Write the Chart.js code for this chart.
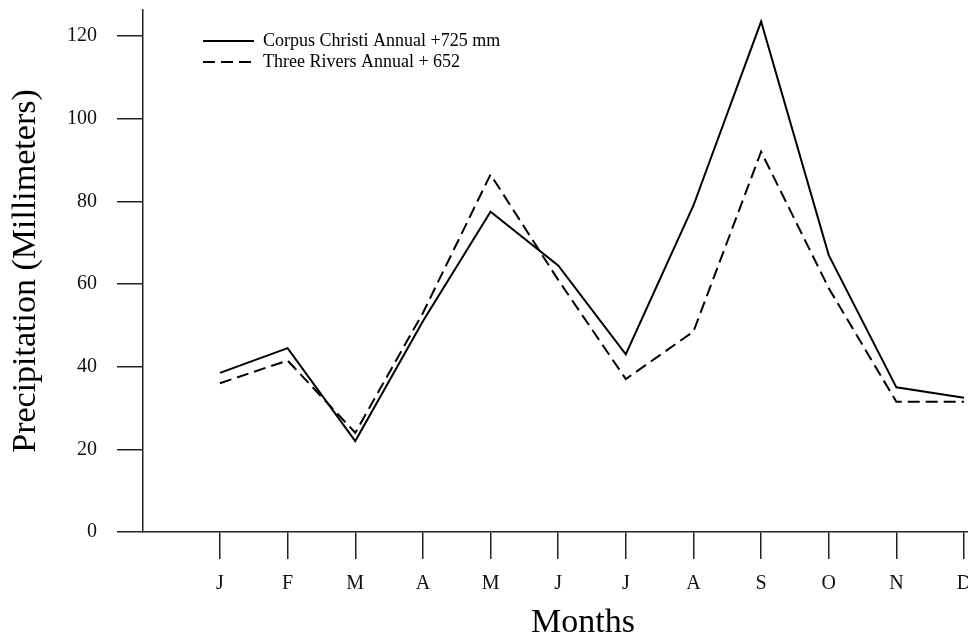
<!DOCTYPE html>
<html>
<head>
<meta charset="utf-8">
<title>Precipitation by month</title>
<script src="https://cdn.jsdelivr.net/npm/chart.js@4.4.1/dist/chart.umd.min.js"></script>
<style>
	body { margin: 0; background: #fff; }
	#wrap { width: 968px; height: 640px; }
</style>
</head>
<body>
<div id="wrap"><canvas id="myChart"></canvas></div>
<script>
// values (mm per month)
const months = ['J', 'F', 'M', 'A', 'M', 'J', 'J', 'A', 'S', 'O', 'N', 'D'];
const corpusChristi = [38.5, 44.5, 22, 51, 77.5, 64.5, 43, 79, 123.5, 67, 35, 32.5];
const threeRivers = [36, 41.5, 24, 53, 86.5, 61, 37, 48.5, 92, 59, 31.5, 31.5];
const yTicks = [0, 20, 40, 60, 80, 100, 120];
const seriesNames = ['Corpus Christi Annual +725 mm', 'Three Rivers Annual + 652'];

var myChart;

window.addEventListener('load', function(){
	drawChart();
});

// legend inside the plot (upper left), and the "Months" title a bit right of centre
const placeThings = {
	id: 'placeThings',
	afterLayout: function(chart){
		let lg = chart.legend;
		if(lg != null){
			lg.left = 200;
			lg.top = 29;
		}
		chart.scales.x.right += 55;
	}
};

function noEdgePadding(s){
	s.paddingTop = 0;
	s.paddingBottom = 0;
	s.paddingLeft = 0;
	s.paddingRight = 0;
}

function drawChart(){
	Chart.defaults.font.family = "'Liberation Serif', 'Times New Roman', serif";
	Chart.defaults.color = '#000';

	const data = {
		datasets: [{
			label: seriesNames[0],
			data: corpusChristi.map((v, i) => ({x: i + 1, y: v})),
			borderColor: '#000',
			backgroundColor: '#000',
			borderWidth: 2,
			pointRadius: 0,
			tension: 0,
			fill: false
		}, {
			label: seriesNames[1],
			data: threeRivers.map((v, i) => ({x: i + 1, y: v})),
			borderColor: '#000',
			backgroundColor: '#000',
			borderWidth: 2,
			borderDash: [12, 6],
			pointRadius: 0,
			tension: 0,
			fill: false
		}]
	};

	const axisColor = '#222';

	const config = {
		type: 'line',
		data: data,
		plugins: [placeThings],
		options: {
			responsive: true,
			maintainAspectRatio: false,
			animation: false,
			layout: { padding: { top: 10, right: 0, bottom: 0, left: 0 } },
			plugins: {
				tooltip: { enabled: false },
				legend: {
					position: 'chartArea',
					align: 'start',
					labels: {
						boxWidth: 51,
						boxHeight: 0,
						padding: 3,
						color: '#000',
						font: { size: 18 }
					}
				}
			},
			scales: {
				x: {
					type: 'linear',
					min: -0.138,
					max: 12.059,
					afterFit: function(s){
						s.height = 108;
						noEdgePadding(s);
					},
					afterBuildTicks: function(s){
						s.ticks = months.map((m, i) => ({value: i + 1}));
					},
					ticks: {
						callback: function(v){ return months[v - 1]; },
						autoSkip: false,
						maxRotation: 0,
						padding: 13,
						color: '#111',
						font: { size: 20 }
					},
					grid: { drawOnChartArea: false, drawTicks: true, tickLength: 27, color: axisColor, lineWidth: 1.5 },
					border: { color: axisColor, width: 1.5 },
					title: {
						display: true,
						text: 'Months',
						color: '#000',
						font: { size: 34, lineHeight: 1 },
						padding: { top: 0, bottom: 0 }
					}
				},
				y: {
					min: 0,
					max: 126.3,
					afterFit: function(s){
						s.width = 143;
						noEdgePadding(s);
					},
					afterBuildTicks: function(s){
						s.ticks = yTicks.map(v => ({value: v}));
					},
					ticks: {
						padding: 20,
						color: '#111',
						font: { size: 20 }
					},
					grid: { drawOnChartArea: false, drawTicks: true, tickLength: 26, color: axisColor, lineWidth: 1.5 },
					border: { color: axisColor, width: 1.5 },
					title: {
						display: true,
						text: 'Precipitation (Millimeters)',
						color: '#000',
						font: { size: 34, lineHeight: 1 },
						padding: { top: 9, bottom: 0 }
					}
				}
			}
		}
	};

	if(myChart != null){
		myChart.destroy();
	}
	myChart = new Chart(document.getElementById('myChart'), config);
}
</script>
</body>
</html>
